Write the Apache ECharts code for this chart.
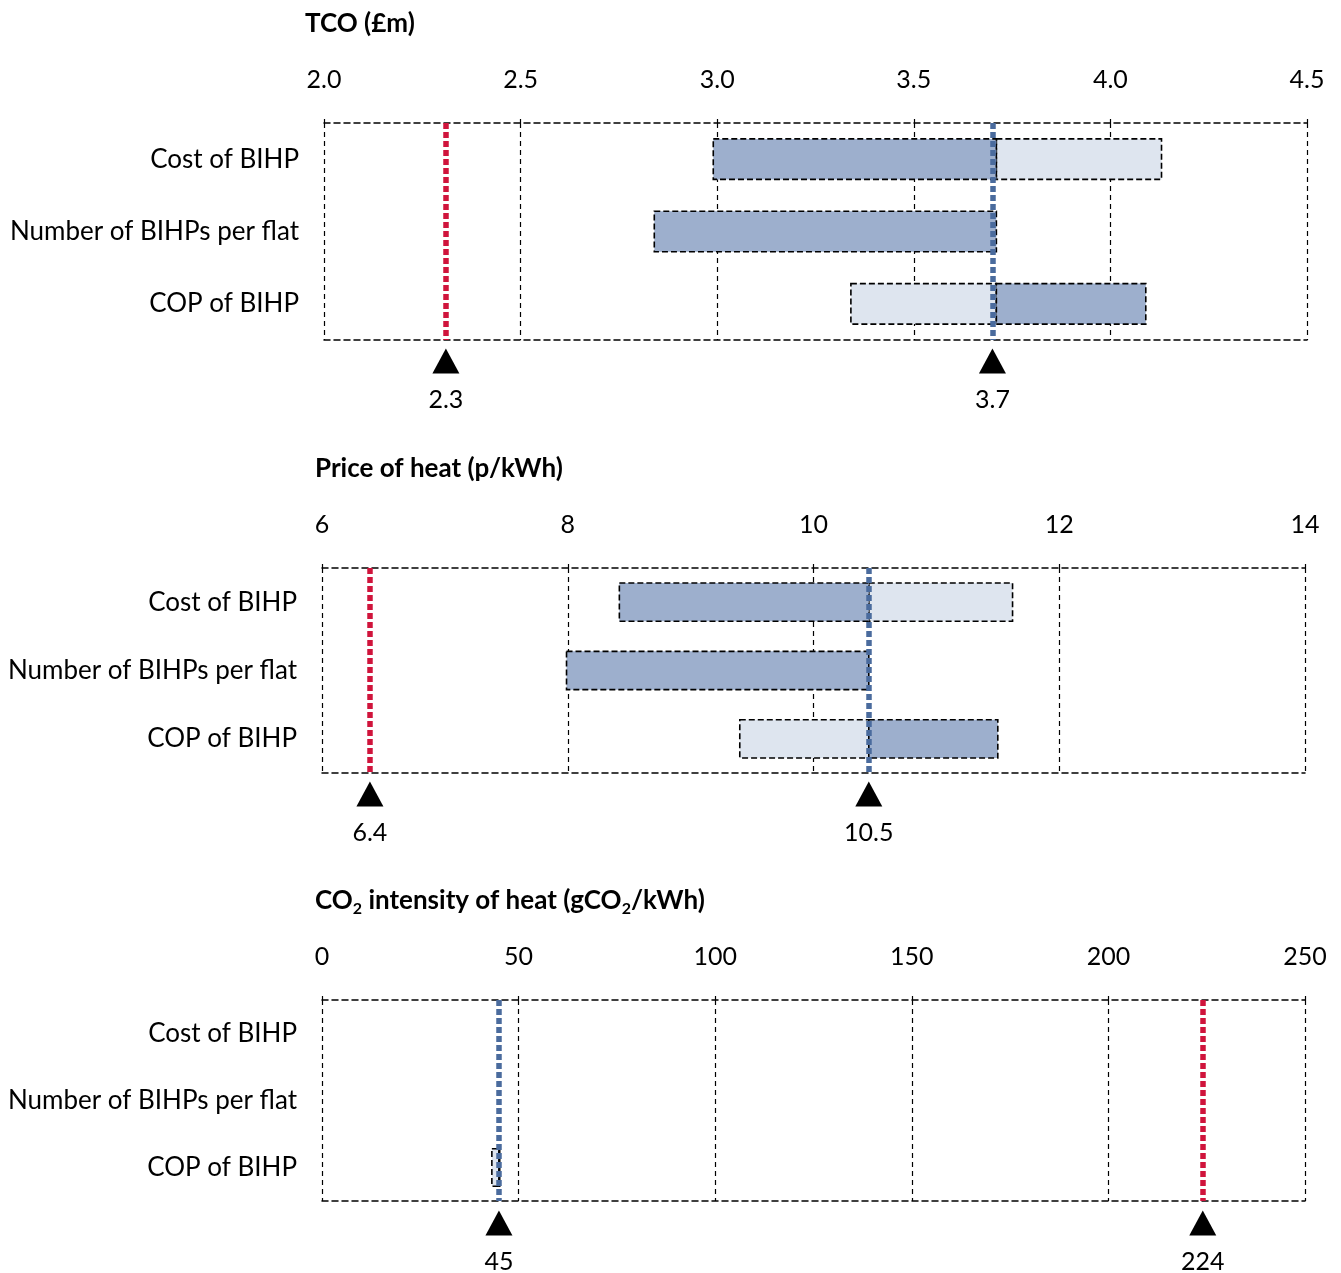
<!DOCTYPE html>
<html><head><meta charset="utf-8">
<script src="https://cdn.jsdelivr.net/npm/echarts@6/dist/echarts.min.js"></script>
<style>html,body{margin:0;padding:0;background:#fff}#c{width:1341px;height:1273px}</style>
</head><body><div id="c"></div>
<script>
// ---- data ----
const categories = ['Cost of BIHP', 'Number of BIHPs per flat', 'COP of BIHP'];

const tcoTicks = {min: 2.0, max: 4.5, interval: 0.5};
const tcoDark  = [[2.99, 3.71], [2.84, 3.71], [3.71, 4.09]];
const tcoLight = [[3.71, 4.13], null, [3.34, 3.71]];
const tcoBlueLine = 3.70, tcoRedLine = 2.31;
const tcoMarkers = [2.31, 3.70], tcoMarkerLabels = ['2.3', '3.7'];

const priceTicks = {min: 6, max: 14, interval: 2};
const priceDark  = [[8.42, 10.45], [7.99, 10.45], [10.45, 11.50]];
const priceLight = [[10.45, 11.62], null, [9.40, 10.45]];
const priceBlueLine = 10.45, priceRedLine = 6.39;
const priceMarkers = [6.39, 10.45], priceMarkerLabels = ['6.4', '10.5'];

const co2Ticks = {min: 0, max: 250, interval: 50};
const co2Dark  = [null, null, [45.0, 45.2]];
const co2Light = [null, null, [43.2, 45.0]];
const co2BlueLine = 45, co2RedLine = 224;
const co2Markers = [45, 224], co2MarkerLabels = ['45', '224'];

// ---- styling / layout ----
const FONT = 'Lato';
const DARK = '#9DAFCD', LIGHT = '#DEE5EF', BLUE = '#4A6B9D', RED = '#D0143C';
const panels = [
  {ticks: tcoTicks, dark: tcoDark, light: tcoLight, blue: tcoBlueLine, red: tcoRedLine,
   markers: tcoMarkers, mlabels: tcoMarkerLabels, fmt: v => v.toFixed(1),
   grid: {left: 324, top: 123, width: 983, height: 217}, mtop: 349},
  {ticks: priceTicks, dark: priceDark, light: priceLight, blue: priceBlueLine, red: priceRedLine,
   markers: priceMarkers, mlabels: priceMarkerLabels, fmt: v => String(v),
   grid: {left: 322, top: 568, width: 983, height: 205}, mtop: 782},
  {ticks: co2Ticks, dark: co2Dark, light: co2Light, blue: co2BlueLine, red: co2RedLine,
   markers: co2Markers, mlabels: co2MarkerLabels, fmt: v => String(v),
   grid: {left: 322, top: 1000, width: 983, height: 201}, mtop: 1211}
];

const grids = [], xAxes = [], yAxes = [], series = [];
const boxLine = {color: '#000', width: 1.5, type: [6, 4]};

function barRender(fill) {
  return function (params, api) {
    const cat = api.value(0);
    const p1 = api.coord([api.value(1), cat]);
    const p2 = api.coord([api.value(2), cat]);
    const h = api.size([0, 1])[1] * 0.56;
    return {
      type: 'rect',
      shape: {x: p1[0], y: p1[1] - h / 2, width: p2[0] - p1[0], height: h},
      style: {fill: fill, stroke: '#000', lineWidth: 1.6, lineDash: [6, 3]}
    };
  };
}

panels.forEach((p, i) => {
  const gi = grids.length;
  grids.push(Object.assign({containLabel: false, outerBoundsMode: 'none'}, p.grid));
  const xTop = xAxes.length;
  xAxes.push({type: 'value', gridIndex: gi, position: 'top', min: p.ticks.min, max: p.ticks.max,
    interval: p.ticks.interval,
    axisLine: {show: true, lineStyle: boxLine},
    axisTick: {show: true, length: 4, lineStyle: {color: '#000', width: 1.2}},
    axisLabel: {margin: 31, fontFamily: FONT, fontSize: 25, color: '#000', formatter: p.fmt},
    splitLine: {show: true, lineStyle: {color: '#000', width: 1.2, type: [5, 4]}}});
  xAxes.push({type: 'value', gridIndex: gi, position: 'bottom', min: p.ticks.min, max: p.ticks.max,
    interval: p.ticks.interval,
    axisLine: {show: true, lineStyle: boxLine}, axisTick: {show: false},
    axisLabel: {show: false}, splitLine: {show: false}});
  const yi = yAxes.length;
  yAxes.push({type: 'category', gridIndex: gi, data: categories, inverse: true,
    axisLine: {show: false}, axisTick: {show: false},
    axisLabel: {margin: 25, fontFamily: FONT, fontSize: 26, color: '#000'}});

  const toData = arr => arr.map((r, k) => r ? [k, r[0], r[1]] : null).filter(d => d);
  series.push({type: 'custom', xAxisIndex: xTop, yAxisIndex: yi, renderItem: barRender(LIGHT),
    encode: {x: [1, 2], y: 0}, data: toData(p.light), z: 2, silent: true});
  series.push({type: 'custom', xAxisIndex: xTop, yAxisIndex: yi, renderItem: barRender(DARK),
    encode: {x: [1, 2], y: 0}, data: toData(p.dark), z: 2, silent: true});
  series.push({type: 'line', xAxisIndex: xTop, yAxisIndex: yi, data: [], z: 5, silent: true,
    markLine: {silent: true, symbol: 'none', label: {show: false},
      data: [
        {xAxis: p.red, lineStyle: {color: RED, width: 5.5, type: [6, 3]}},
        {xAxis: p.blue, lineStyle: {color: BLUE, width: 5.5, type: [6, 3]}}
      ]}});

  const mg = grids.length;
  grids.push({containLabel: false, outerBoundsMode: 'none', left: p.grid.left, width: p.grid.width,
    top: p.mtop, height: 24});
  const mx = xAxes.length;
  xAxes.push({type: 'value', gridIndex: mg, show: false, min: p.ticks.min, max: p.ticks.max});
  const my = yAxes.length;
  yAxes.push({type: 'value', gridIndex: mg, show: false, min: 0, max: 1});
  series.push({type: 'scatter', xAxisIndex: mx, yAxisIndex: my, symbol: 'triangle',
    symbolSize: [27, 25], itemStyle: {color: '#000', opacity: 1}, silent: true,
    label: {show: true, position: 'bottom', distance: 14, fontFamily: FONT, fontSize: 25, color: '#000',
      formatter: prm => prm.name},
    data: p.markers.map((v, k) => ({value: [v, 0.5], name: p.mlabels[k]}))});
});

const titleStyle = {fontFamily: FONT, fontSize: 26, fontWeight: 'bold', color: '#000', lineHeight: 28};
const option = {
  animation: false,
  backgroundColor: '#fff',
  title: [
    {text: 'TCO (£m)', left: 305, top: 10, padding: 0, textStyle: titleStyle},
    {text: 'Price of heat (p/kWh)', left: 315, top: 455, padding: 0, textStyle: titleStyle},
    {text: '{a|CO}{s|2}{a| intensity of heat (gCO}{s|2}{a|/kWh)}', left: 315, top: 885, padding: 0,
      textStyle: {rich: {
        a: {fontFamily: FONT, fontSize: 26, fontWeight: 'bold', color: '#000', lineHeight: 32, verticalAlign: 'middle'},
        s: {fontFamily: FONT, fontSize: 16, fontWeight: 'bold', color: '#000', lineHeight: 32, verticalAlign: 'bottom'}
      }}}
  ],
  grid: grids, xAxis: xAxes, yAxis: yAxes, series: series
};
const chart = echarts.init(document.getElementById('c'), null, {renderer: 'canvas'});
chart.setOption(option);
</script></body></html>
